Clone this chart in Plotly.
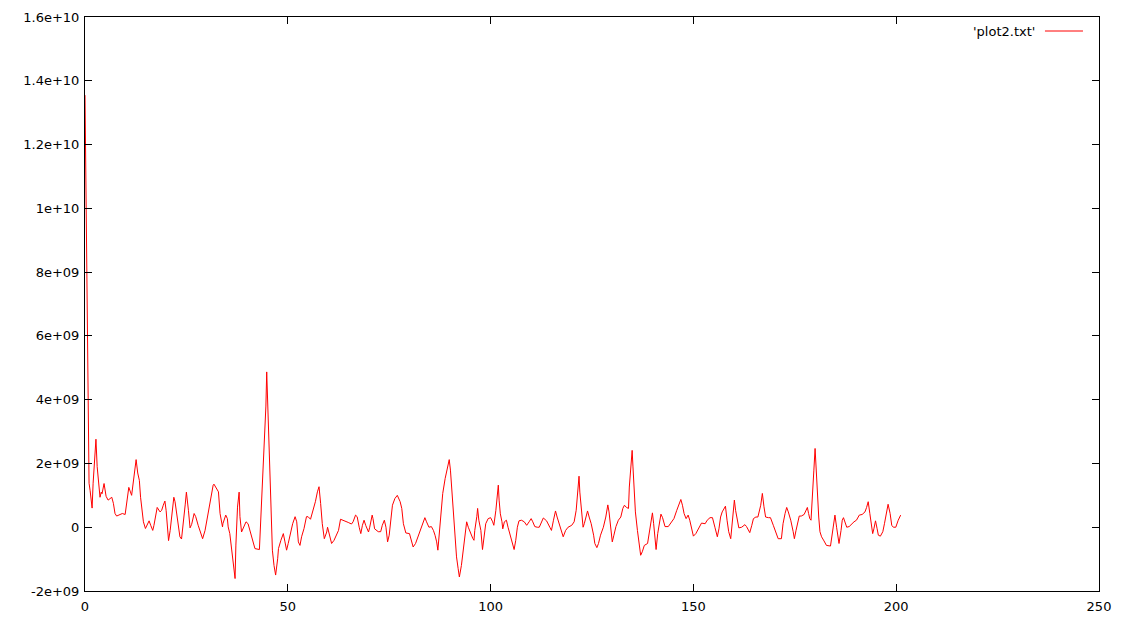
import plotly.graph_objects as go

x_vals = [0.0, 0.25, 0.5, 0.75, 1.0, 1.25, 1.5, 1.75, 2.0, 2.3, 2.7, 3.0, 3.3, 3.5, 3.7, 4.0, 4.2, 4.7, 4.9, 5.2,
          5.7, 6.6, 7.0, 7.4, 7.8, 8.6, 9.2, 9.9, 10.3, 10.8, 11.5, 11.9, 12.6, 13.0, 13.4, 13.7, 14.05, 14.4, 14.9, 15.2,
          15.8, 16.2, 16.7, 17.0, 17.5, 17.8, 18.5, 18.9, 19.3, 19.7, 20.0, 20.3, 20.6, 21.0, 21.6, 21.9, 22.2, 22.6, 23.0, 23.4,
          23.8, 24.2, 24.7, 25.0, 25.3, 25.5, 25.9, 26.3, 26.9, 27.3, 27.9, 28.8, 29.0, 29.6, 30.4, 31.0, 31.6, 31.8, 32.9, 33.3,
          33.9, 34.0, 34.7, 35.1, 35.3, 35.7, 36.2, 36.6, 37.0, 37.2, 37.6, 38.0, 38.2, 38.6, 39.0, 39.7, 40.2, 40.4, 41.2, 41.9,
          43.0, 43.3, 43.6, 44.0, 44.3, 44.6, 44.8, 45.0, 45.3, 45.6, 45.9, 46.2, 46.6, 47.0, 47.5, 47.7, 48.3, 48.9, 49.3, 49.7,
          50.1, 50.5, 51.2, 51.8, 52.2, 52.6, 53.0, 53.4, 54.0, 54.6, 55.0, 55.6, 56.3, 56.8, 57.3, 57.7, 58.1, 58.5, 59.0, 59.6,
          59.8, 60.2, 60.8, 61.4, 61.8, 62.5, 63.0, 63.7, 64.9, 65.7, 66.1, 66.7, 67.1, 67.6, 68.0, 68.4, 68.8, 69.2, 69.9, 70.2,
          70.8, 71.0, 71.4, 72.3, 72.9, 73.3, 73.8, 74.2, 74.6, 75.0, 75.4, 75.8, 76.4, 77.0, 77.7, 78.1, 78.5, 79.1, 80.0, 80.5,
          80.9, 81.5, 82.2, 82.8, 83.4, 83.8, 84.2, 84.8, 85.4, 85.9, 86.3, 86.7, 87.0, 87.3, 87.8, 88.2, 88.8, 89.4, 89.8, 90.1,
          90.6, 91.0, 91.4, 91.6, 92.0, 92.3, 92.8, 93.3, 93.7, 94.1, 94.5, 94.9, 95.6, 95.9, 96.1, 96.6, 96.8, 97.1, 97.6, 98.0,
          98.4, 98.8, 99.4, 100.0, 100.5, 100.8, 101.3, 101.6, 101.9, 102.1, 102.4, 102.8, 103.0, 103.4, 103.9, 104.3, 104.9, 105.4, 105.8, 106.2,
          106.6, 107.0, 107.6, 108.3, 108.9, 109.5, 110.0, 110.4, 110.9, 111.5, 112.0, 113.0, 113.8, 114.6, 115.0, 115.5, 116.0, 116.4, 117.1, 117.7,
          117.9, 118.5, 119.1, 120.0, 120.6, 121.1, 121.5, 121.8, 122.0, 122.4, 122.8, 123.1, 123.5, 123.9, 124.3, 124.8, 125.4, 125.7, 126.2, 126.6,
          127.1, 127.8, 128.4, 128.9, 129.2, 129.6, 130.0, 130.4, 130.9, 131.5, 132.1, 132.6, 133.0, 133.5, 134.0, 134.2, 134.6, 134.9, 135.1, 135.4,
          135.7, 136.2, 136.6, 137.0, 137.4, 137.9, 138.7, 139.1, 139.5, 139.9, 140.2, 140.5, 140.8, 141.2, 141.6, 142.0, 142.4, 143.0, 143.8, 144.6,
          145.2, 145.9, 146.4, 146.9, 147.3, 147.7, 148.2, 148.7, 149.1, 149.5, 150.0, 150.6, 151.2, 152.0, 152.9, 153.4, 154.1, 154.7, 155.3, 155.7,
          155.9, 156.3, 156.7, 157.1, 157.6, 157.9, 158.3, 158.7, 159.2, 159.6, 159.9, 160.1, 160.4, 160.8, 161.2, 161.9, 162.7, 163.1, 163.5, 163.9,
          164.4, 164.8, 165.4, 165.9, 166.6, 167.0, 167.4, 167.8, 168.5, 169.0, 169.7, 170.4, 170.9, 171.7, 172.1, 172.6, 173.0, 173.4, 174.0, 174.6,
          174.9, 175.3, 175.7, 176.1, 176.6, 177.3, 177.7, 178.1, 178.4, 178.7, 179.0, 179.3, 179.7, 180.0, 180.3, 180.5, 180.9, 181.2, 181.6, 182.2,
          182.8, 183.8, 184.2, 184.6, 184.9, 185.3, 185.7, 185.9, 186.4, 186.7, 187.0, 187.4, 187.8, 188.4, 189.0, 189.6, 190.2, 190.9, 191.6, 192.3,
          192.7, 193.1, 193.5, 193.9, 194.2, 194.5, 194.9, 195.3, 195.6, 196.1, 196.7, 197.1, 197.6, 198.0, 198.5, 198.9, 199.3, 199.9, 200.5, 201.1]

# values in units of 1e9
y_vals_e9 = [13.55, 10.1, 6.65, 3.2, 1.38, 1.16, 0.75, 0.6, 1.38, 1.94, 2.76, 1.9, 1.57, 1.22, 0.94, 1.1, 1.05, 1.37, 1.2, 0.97,
             0.85, 0.94, 0.75, 0.43, 0.35, 0.41, 0.43, 0.4, 0.8, 1.25, 1.0, 1.38, 2.12, 1.7, 1.47, 0.94, 0.43, 0.17, -0.04, 0.06,
             0.2, 0.06, -0.1, 0.06, 0.4, 0.62, 0.48, 0.53, 0.69, 0.82, 0.53, -0.04, -0.42, -0.1, 0.53, 0.94, 0.8, 0.43, 0.06, -0.3,
             -0.37, 0.23, 0.7, 1.1, 0.6, 0.53, -0.02, 0.09, 0.43, 0.33, 0.06, -0.25, -0.36, -0.1, 0.48, 0.95, 1.32, 1.35, 1.11, 0.43,
             0.01, 0.11, 0.38, 0.27, 0.01, -0.2, -0.72, -1.2, -1.61, -0.56, 0.63, 1.1, 0.33, -0.15, -0.04, 0.17, 0.11, 0.01, -0.3, -0.67,
             -0.7, 0.11, 0.63, 1.89, 2.73, 3.8, 4.87, 4.0, 2.78, 1.47, 0.17, -0.72, -1.2, -1.5, -0.99, -0.67, -0.41, -0.2, -0.46, -0.72,
             -0.51, -0.25, 0.11, 0.33, 0.17, -0.46, -0.57, -0.3, -0.04, 0.33, 0.33, 0.25, 0.54, 0.8, 1.11, 1.27, 0.74, 0.11, -0.36, -0.15,
             0.0, -0.2, -0.51, -0.41, -0.3, -0.1, 0.25, 0.22, 0.15, 0.1, 0.17, 0.38, 0.33, 0.0, -0.2, 0.06, 0.22, 0.06, -0.15, 0.0,
             0.38, 0.27, -0.05, -0.14, -0.14, 0.06, 0.22, 0.0, -0.46, -0.25, 0.33, 0.69, 0.9, 1.0, 0.8, 0.59, 0.11, -0.18, -0.2, -0.41,
             -0.62, -0.51, -0.25, 0.0, 0.22, 0.3, 0.17, 0.0, 0.02, -0.1, -0.25, -0.46, -0.72, -0.3, 0.53, 1.06, 1.53, 1.89, 2.12, 1.79,
             0.95, 0.0, -0.51, -0.93, -1.3, -1.56, -1.2, -0.72, -0.2, 0.17, 0.0, -0.14, -0.35, -0.41, -0.1, 0.33, 0.59, 0.22, -0.1, -0.7,
             -0.35, 0.11, 0.27, 0.3, 0.17, 0.06, 0.53, 0.85, 1.32, 0.85, 0.42, 0.17, -0.05, 0.17, 0.22, 0.0, -0.25, -0.46, -0.7, -0.41,
             0.0, 0.2, 0.22, 0.17, 0.06, 0.17, 0.27, 0.17, 0.02, 0.0, 0.0, 0.29, 0.2, 0.0, -0.1, 0.22, 0.51, 0.32, 0.0, -0.2,
             -0.3, -0.1, 0.0, 0.06, 0.17, 0.53, 1.16, 1.6, 1.1, 0.53, 0.0, 0.11, 0.32, 0.51, 0.32, 0.11, -0.25, -0.51, -0.64, -0.51,
             -0.25, 0.0, 0.32, 0.7, 0.48, -0.1, -0.46, -0.25, 0.02, 0.22, 0.32, 0.59, 0.69, 0.62, 0.59, 1.26, 1.89, 2.41, 1.89, 1.26,
             0.48, -0.1, -0.51, -0.88, -0.77, -0.57, -0.51, -0.2, 0.22, 0.45, 0.11, -0.41, -0.7, -0.2, 0.17, 0.41, 0.3, 0.02, 0.02, 0.17,
             0.27, 0.53, 0.69, 0.87, 0.69, 0.43, 0.27, 0.38, 0.22, 0.0, -0.28, -0.2, -0.07, 0.13, 0.11, 0.22, 0.3, 0.3, 0.0, -0.25,
             -0.3, -0.05, 0.32, 0.48, 0.59, 0.66, 0.22, -0.14, -0.36, 0.22, 0.64, 0.85, 0.53, 0.22, -0.02, 0.0, 0.08, 0.02, -0.07, -0.17,
             0.06, 0.27, 0.32, 0.32, 0.69, 1.06, 0.64, 0.32, 0.3, 0.3, 0.06, -0.2, -0.36, -0.36, 0.11, 0.43, 0.62, 0.48, 0.22, -0.14,
             -0.36, -0.1, 0.11, 0.35, 0.35, 0.4, 0.51, 0.62, 0.43, 0.27, 0.22, 1.06, 1.79, 2.47, 1.79, 0.95, 0.32, -0.14, -0.3, -0.43,
             -0.57, -0.59, -0.25, 0.11, 0.38, 0.0, -0.3, -0.51, -0.1, 0.22, 0.3, 0.17, 0.0, 0.02, 0.11, 0.17, 0.22, 0.38, 0.4, 0.48,
             0.62, 0.8, 0.43, -0.05, -0.2, -0.05, 0.2, -0.05, -0.25, -0.28, -0.14, 0.11, 0.43, 0.72, 0.43, 0.06, 0.0, 0.0, 0.22, 0.38]

y_vals = [v * 1e9 for v in y_vals_e9]

y_tick_vals = [-2e9, 0, 2e9, 4e9, 6e9, 8e9, 1e10, 1.2e10, 1.4e10, 1.6e10]
y_tick_text = ["-2e+09", "0", "2e+09", "4e+09", "6e+09", "8e+09", "1e+10", "1.2e+10", "1.4e+10", "1.6e+10"]
x_tick_vals = [0, 50, 100, 150, 200, 250]
x_tick_text = ["0", "50", "100", "150", "200", "250"]
legend_label = "'plot2.txt'"

fig = go.Figure()
fig.add_trace(go.Scatter(x=x_vals, y=y_vals, mode="lines",
                         line=dict(color="#ff0000", width=1), showlegend=False,
                         name=legend_label))

axis_common = dict(showgrid=False, zeroline=False, showline=True, linecolor="black", linewidth=1,
                   ticks="inside", ticklen=7, tickcolor="black", tickwidth=1, mirror="ticks",
                   automargin=False,
                   tickfont=dict(family="DejaVu Sans", size=13, color="black"))

fig.update_xaxes(range=[0, 250], tickvals=x_tick_vals, ticktext=x_tick_text,
                 ticklabelstandoff=3, **axis_common)
fig.update_yaxes(range=[-2e9, 1.6e10], tickvals=y_tick_vals, ticktext=y_tick_text,
                 ticklabelstandoff=2, **axis_common)

fig.add_annotation(x=0.9389, y=0.9756, xref="paper", yref="paper", text=legend_label,
                   showarrow=False, xanchor="right", yanchor="middle",
                   font=dict(family="DejaVu Sans", size=13, color="black"))
fig.add_shape(type="line", xref="paper", yref="paper", x0=0.9467, x1=0.9842, y0=0.9756, y1=0.9756,
              line=dict(color="#ff0000", width=1))

# page body has an 8px margin, so the figure is offset by (8, 8)
fig.update_layout(width=1108, height=607, paper_bgcolor="white", plot_bgcolor="white",
                  margin=dict(l=77, r=17, t=9, b=24), showlegend=False)

fig.write_html("out.html")
